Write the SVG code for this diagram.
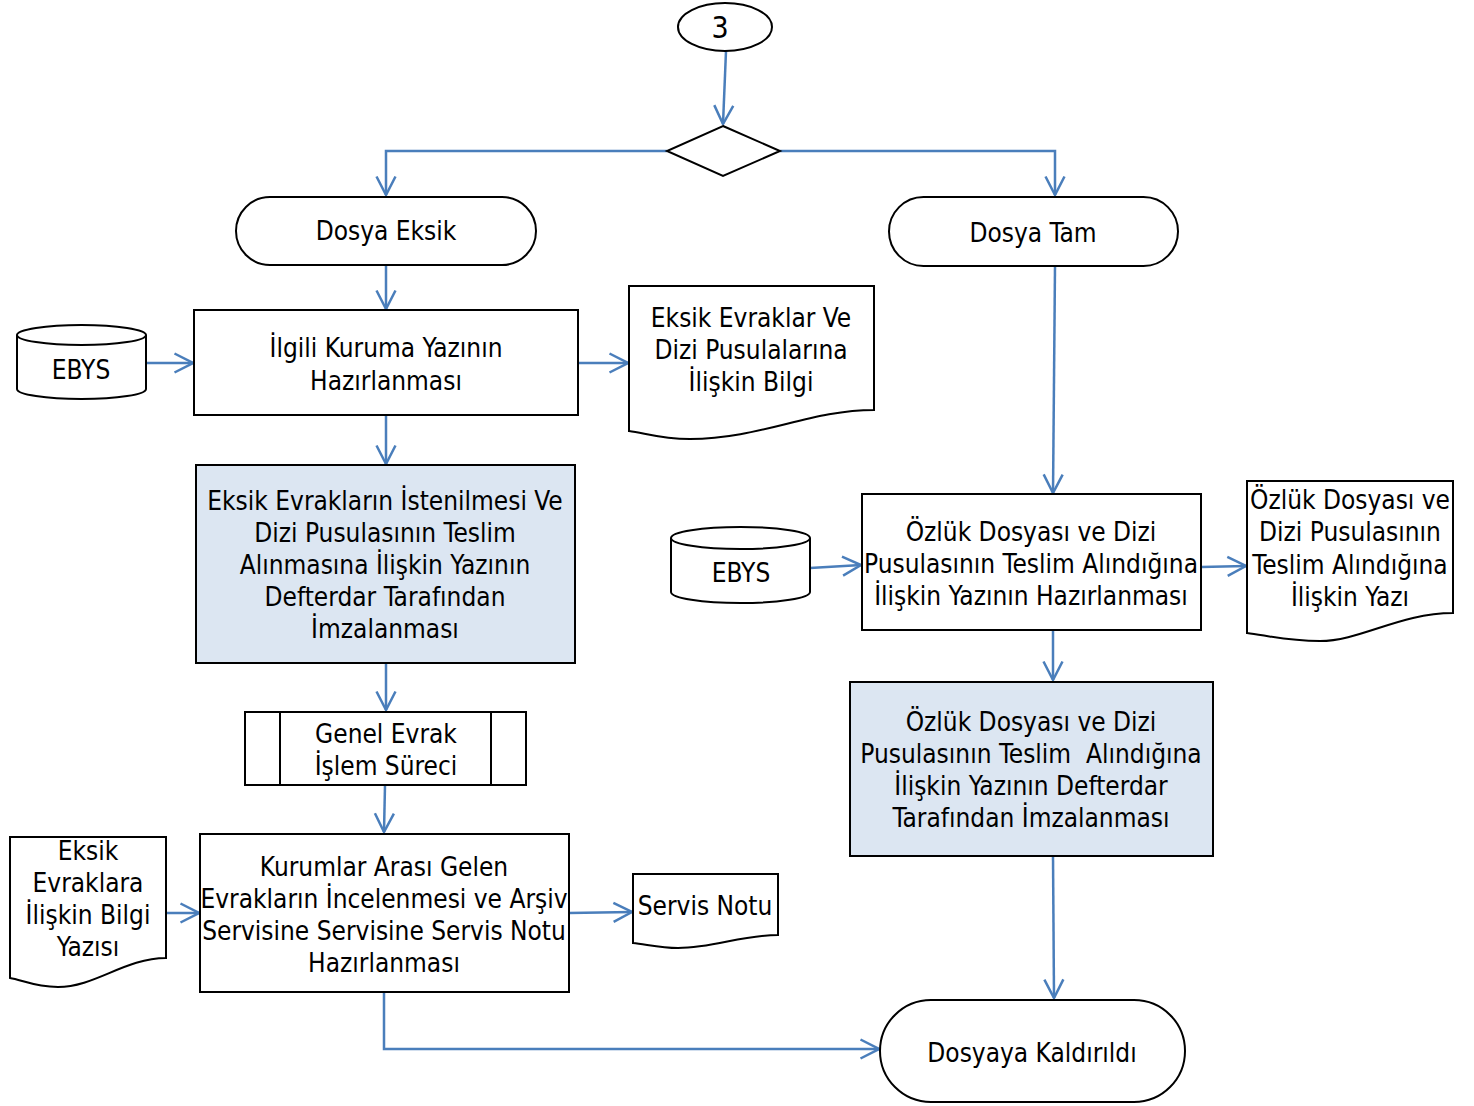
<svg xmlns="http://www.w3.org/2000/svg" width="1474" height="1106" viewBox="0 0 1474 1106">
<style>
.s{fill:#fff;stroke:#000;stroke-width:2}
.b{fill:#dce6f2;stroke:#000;stroke-width:2}
.t{font-family:"DejaVu Sans Condensed","DejaVu Sans",sans-serif;font-stretch:condensed;font-size:26px;fill:#000;text-anchor:middle}
.c{fill:none;stroke:#4a7ebb;stroke-width:2.5}
</style>
<defs>
<marker id="a" viewBox="0 0 22 22" refX="20.5" refY="11" markerWidth="22" markerHeight="22" markerUnits="userSpaceOnUse" orient="auto">
<path d="M2,1.5 L20.5,11 L2,20.5" fill="none" stroke="#4a7ebb" stroke-width="2.5"/>
</marker>
</defs>
<rect width="1474" height="1106" fill="#fff"/>
<g id="connectors">
<path class="c" d="M726,51 L723,124" marker-end="url(#a)"/>
<path class="c" d="M667,151 H386 V195" marker-end="url(#a)"/>
<path class="c" d="M780,151 H1055 V195" marker-end="url(#a)"/>
<path class="c" d="M386,265 V309" marker-end="url(#a)"/>
<path class="c" d="M146,363 H193" marker-end="url(#a)"/>
<path class="c" d="M578,363 H628" marker-end="url(#a)"/>
<path class="c" d="M386,415 V464" marker-end="url(#a)"/>
<path class="c" d="M386,663 V710" marker-end="url(#a)"/>
<path class="c" d="M385,785 L384,832" marker-end="url(#a)"/>
<path class="c" d="M166,913 H199" marker-end="url(#a)"/>
<path class="c" d="M569,913 L632,912" marker-end="url(#a)"/>
<path class="c" d="M384,992 V1049 H879" marker-end="url(#a)"/>
<path class="c" d="M1055,266 L1053,493" marker-end="url(#a)"/>
<path class="c" d="M810,568 L861,565" marker-end="url(#a)"/>
<path class="c" d="M1201,567 L1246,566" marker-end="url(#a)"/>
<path class="c" d="M1053,630 V680" marker-end="url(#a)"/>
<path class="c" d="M1053,856 L1054,998" marker-end="url(#a)"/>
</g>
<g id="n3">
<ellipse class="s" cx="725" cy="27" rx="47" ry="24"/>
<text class="t" x="720" y="38" style="font-size:30px">3</text>
</g>
<g id="decision">
<path class="s" d="M723,126 L780,151 L723,176 L667,151 Z"/>
</g>
<g id="dosyaEksik">
<rect class="s" x="236" y="197" width="300" height="68" rx="34"/>
<text class="t" x="386" y="240">Dosya Eksik</text>
</g>
<g id="dosyaTam">
<rect class="s" x="889" y="197" width="289" height="69" rx="34.5"/>
<text class="t" x="1033" y="242">Dosya Tam</text>
</g>
<g id="ebys1">
<path class="s" d="M17,335 V389 A64.5,10 0 0 0 146,389 V335 A64.5,10 0 0 0 17,335 Z"/>
<path class="s" d="M17,335 A64.5,10 0 0 0 146,335" fill="none"/>
<text class="t" x="81" y="379">EBYS</text>
</g>
<g id="ilgili">
<rect class="s" x="194" y="310" width="384" height="105"/>
<text class="t" x="386" y="357">İlgili Kuruma Yazının</text>
<text class="t" x="386" y="390">Hazırlanması</text>
</g>
<g id="doc1">
<path class="s" d="M629,286 H874 V410 C810,410 760,439 690,439 C660,439 645,433 629,431 Z"/>
<text class="t" x="751" y="327">Eksik Evraklar Ve</text>
<text class="t" x="751" y="359">Dizi Pusulalarına</text>
<text class="t" x="751" y="391">İlişkin Bilgi</text>
</g>
<g id="imza1">
<rect class="b" x="196" y="465" width="379" height="198"/>
<text class="t" x="385" y="510">Eksik Evrakların İstenilmesi Ve</text>
<text class="t" x="385" y="542">Dizi Pusulasının Teslim</text>
<text class="t" x="385" y="574">Alınmasına İlişkin Yazının</text>
<text class="t" x="385" y="606">Defterdar Tarafından</text>
<text class="t" x="385" y="638">İmzalanması</text>
</g>
<g id="genel">
<rect class="s" x="245" y="712" width="281" height="73"/>
<path class="s" d="M280,712 V785 M491,712 V785"/>
<text class="t" x="386" y="743">Genel Evrak</text>
<text class="t" x="386" y="775">İşlem Süreci</text>
</g>
<g id="doc2">
<path class="s" d="M10,837 H166 V958 C125,958 95,987 58,987 C35,987 22,980 10,978 Z"/>
<text class="t" x="88" y="860">Eksik</text>
<text class="t" x="88" y="892">Evraklara</text>
<text class="t" x="88" y="924">İlişkin Bilgi</text>
<text class="t" x="88" y="956">Yazısı</text>
</g>
<g id="kurumlar">
<rect class="s" x="200" y="834" width="369" height="158"/>
<text class="t" x="384" y="876">Kurumlar Arası Gelen</text>
<text class="t" x="384" y="908">Evrakların İncelenmesi ve Arşiv</text>
<text class="t" x="384" y="940">Servisine Servisine Servis Notu</text>
<text class="t" x="384" y="972">Hazırlanması</text>
</g>
<g id="servis">
<path class="s" d="M633,874 H778 V935 C740,935 715,948 678,948 C660,948 645,944 633,943 Z"/>
<text class="t" x="705" y="915">Servis Notu</text>
</g>
<g id="ebys2">
<path class="s" d="M671,538 V592 A69.5,11 0 0 0 810,592 V538 A69.5,11 0 0 0 671,538 Z"/>
<path class="s" d="M671,538 A69.5,11 0 0 0 810,538" fill="none"/>
<text class="t" x="741" y="582">EBYS</text>
</g>
<g id="ozluk">
<rect class="s" x="862" y="494" width="339" height="136"/>
<text class="t" x="1031" y="541">Özlük Dosyası ve Dizi</text>
<text class="t" x="1031" y="573">Pusulasının Teslim Alındığına</text>
<text class="t" x="1031" y="605">İlişkin Yazının Hazırlanması</text>
</g>
<g id="doc3">
<path class="s" d="M1247,481 H1453 V613 C1400,613 1360,641 1320,641 C1285,641 1265,635 1247,633 Z"/>
<text class="t" x="1350" y="509">Özlük Dosyası ve</text>
<text class="t" x="1350" y="541">Dizi Pusulasının</text>
<text class="t" x="1350" y="574">Teslim Alındığına</text>
<text class="t" x="1350" y="606">İlişkin Yazı</text>
</g>
<g id="imza2">
<rect class="b" x="850" y="682" width="363" height="174"/>
<text class="t" x="1031" y="731">Özlük Dosyası ve Dizi</text>
<text class="t" x="1031" y="763" style="white-space:pre">Pusulasının Teslim  Alındığına</text>
<text class="t" x="1031" y="795">İlişkin Yazının Defterdar</text>
<text class="t" x="1031" y="827">Tarafından İmzalanması</text>
</g>
<g id="kaldirildi">
<rect class="s" x="880" y="1000" width="305" height="102" rx="51"/>
<text class="t" x="1032" y="1062">Dosyaya Kaldırıldı</text>
</g>
</svg>
